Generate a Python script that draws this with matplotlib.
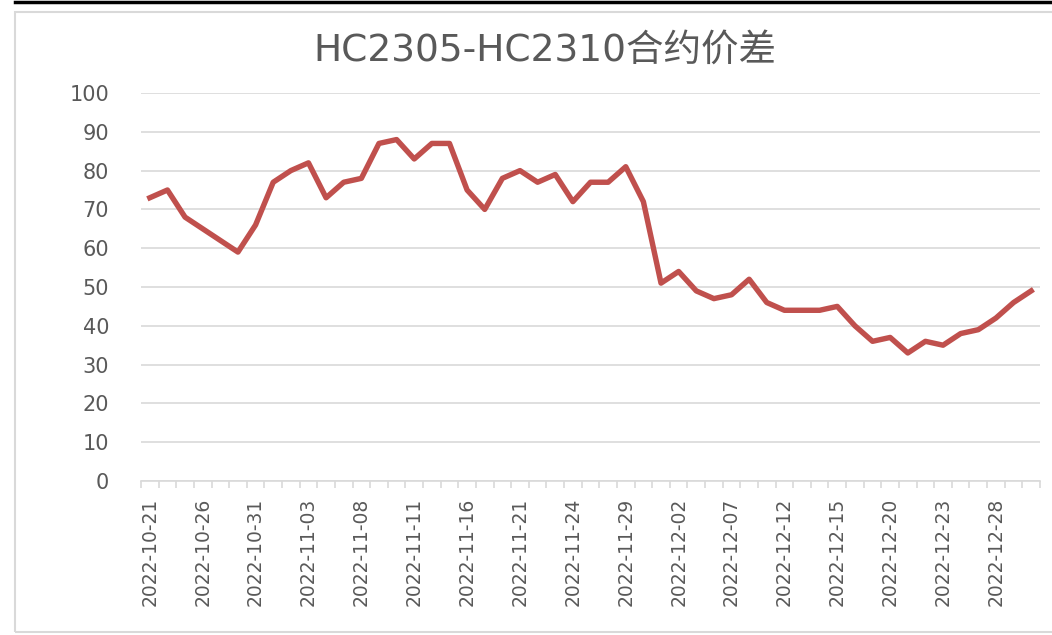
import matplotlib
matplotlib.use("Agg")
import matplotlib.pyplot as plt
from matplotlib.patches import Rectangle
from matplotlib.lines import Line2D
import numpy as np

plt.rcParams['font.family'] = ['DejaVu Sans', 'Noto Sans CJK SC']

# trading days shown on the axis
dates = ["2022-10-21", "2022-10-24", "2022-10-25", "2022-10-26", "2022-10-27", "2022-10-28",
         "2022-10-31", "2022-11-01", "2022-11-02", "2022-11-03", "2022-11-04", "2022-11-07",
         "2022-11-08", "2022-11-09", "2022-11-10", "2022-11-11", "2022-11-14", "2022-11-15",
         "2022-11-16", "2022-11-17", "2022-11-18", "2022-11-21", "2022-11-22", "2022-11-23",
         "2022-11-24", "2022-11-25", "2022-11-28", "2022-11-29", "2022-11-30", "2022-12-01",
         "2022-12-02", "2022-12-05", "2022-12-06", "2022-12-07", "2022-12-08", "2022-12-09",
         "2022-12-12", "2022-12-13", "2022-12-14", "2022-12-15", "2022-12-16", "2022-12-19",
         "2022-12-20", "2022-12-21", "2022-12-22", "2022-12-23", "2022-12-26", "2022-12-27",
         "2022-12-28", "2022-12-29", "2022-12-30"]

spread = [73, 75, 68, 65, 62, 59, 66, 77, 80, 82, 73, 77,
          78, 87, 88, 83, 87, 87, 75, 70, 78, 80, 77, 79,
          72, 77, 77, 81, 72, 51, 54, 49, 47, 48, 52, 46,
          44, 44, 44, 45, 40, 36, 37, 33, 36, 35, 38, 39,
          42, 46, 49]

yticks = [0, 10, 20, 30, 40, 50, 60, 70, 80, 90, 100]
title = "HC2305-HC2310合约价差"

grey = "#595959"
grid = "#d9d9d9"

fig = plt.figure(figsize=(10.52, 6.35), dpi=100)

# outer frame and top rule
fig.patches.append(Rectangle((15 / 1052, 3 / 635), 1.1, 620 / 635, transform=fig.transFigure,
                             fill=False, edgecolor=grid, linewidth=1.5))
fig.lines.append(Line2D([15 / 1052, 1], [1 - 2 / 635, 1 - 2 / 635], transform=fig.transFigure,
                        color="black", linewidth=2.5))

ax = fig.add_axes([141 / 1052, 1 - 481 / 635, (1040 - 141) / 1052, (481 - 93) / 635])

x = np.arange(len(spread))
ax.plot(x, spread, color="#C0504D", linewidth=3.9, solid_joinstyle="round", zorder=3)

ax.set_xlim(-0.5, len(spread) - 0.5)
ax.set_ylim(0, 100)
ax.set_yticks(yticks)
ax.yaxis.grid(True, color=grid, linewidth=1.2)
ax.set_axisbelow(True)

ax.set_xticks(x[::3])
ax.set_xticklabels(dates[::3], rotation=90, fontsize=13.5, color=grey)
ax.set_xticks(np.arange(-0.5, len(spread)), minor=True)
ax.tick_params(axis="x", which="major", length=0, pad=12)
ax.tick_params(axis="x", which="minor", length=5, color=grid, width=1.2)
ax.tick_params(axis="y", length=0, pad=23, labelsize=15, labelcolor=grey)

for s in ["top", "right", "left"]:
    ax.spines[s].set_visible(False)
ax.spines["bottom"].set_color(grid)
ax.spines["bottom"].set_linewidth(1.2)

fig.text(545 / 1052, 1 - 51 / 635, title, ha="center", va="center", fontsize=27, color=grey)

fig.savefig("out.png", dpi=100)
